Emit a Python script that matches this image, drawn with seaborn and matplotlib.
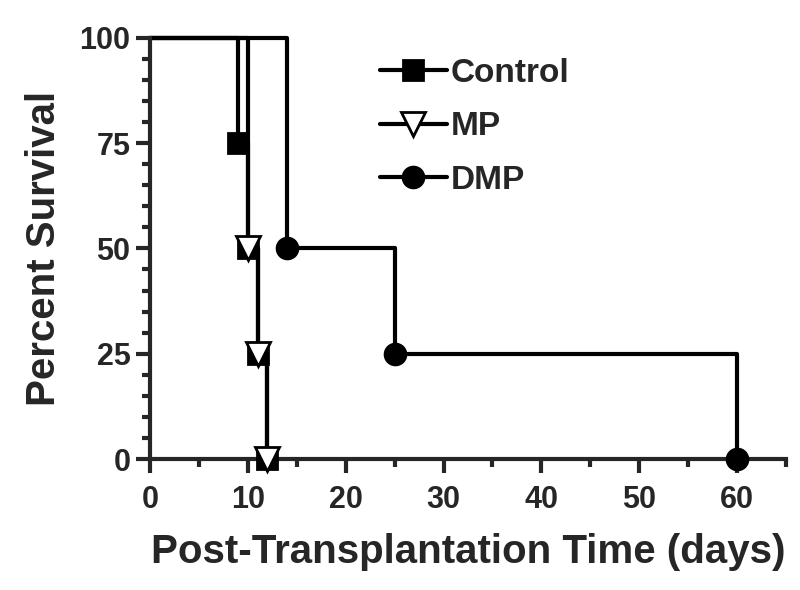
import matplotlib
matplotlib.use('Agg')
import matplotlib.pyplot as plt
import seaborn as sns
import pandas as pd
from matplotlib.lines import Line2D
from matplotlib.ticker import MultipleLocator

# survival curves (day, percent surviving); first point is the start of the curve
control_days = [0, 9, 10, 11, 12]
control_surv = [100, 75, 50, 25, 0]
mp_days = [0, 10, 11, 12]
mp_surv = [100, 50, 25, 0]
dmp_days = [0, 14, 25, 60]
dmp_surv = [100, 50, 25, 0]

groups = ['Control', 'MP', 'DMP']
markers = {'Control': 's', 'MP': 'v', 'DMP': 'o'}
faces = {'Control': 'black', 'MP': 'white', 'DMP': 'black'}
msizes = {'Control': 15, 'MP': 17, 'DMP': 15}

df = pd.concat([
    pd.DataFrame({'day': control_days, 'surv': control_surv, 'group': 'Control'}),
    pd.DataFrame({'day': mp_days, 'surv': mp_surv, 'group': 'MP'}),
    pd.DataFrame({'day': dmp_days, 'surv': dmp_surv, 'group': 'DMP'}),
], ignore_index=True)

sns.set_style('ticks')
plt.rcParams['font.family'] = ['Liberation Sans', 'DejaVu Sans']
plt.rcParams['font.weight'] = 'bold'

fig = plt.figure(figsize=(8, 5.9), dpi=100)
ax = fig.add_axes([0.1875, 0.222, 0.795, 0.714])

lw = 3
for g in groups:
    sub = df[df['group'] == g]
    sns.lineplot(x='day', y='surv', data=sub, ax=ax, color='black', linewidth=lw,
                 drawstyle='steps-post', estimator=None, sort=False, clip_on=False,
                 zorder=2, legend=False)
    ev = sub.iloc[1:]
    ax.plot(ev['day'], ev['surv'], linestyle='none', marker=markers[g],
            markersize=msizes[g], markerfacecolor=faces[g], markeredgecolor='black',
            markeredgewidth=2, clip_on=False, zorder=3)

ax.set_xlim(0, 65)
ax.set_ylim(0, 100)
ax.xaxis.set_major_locator(MultipleLocator(10))
ax.xaxis.set_minor_locator(MultipleLocator(5))
ax.yaxis.set_major_locator(MultipleLocator(25))
ax.yaxis.set_minor_locator(MultipleLocator(5))
ax.tick_params(which='major', length=10, width=3, labelsize=22)
ax.tick_params(axis='x', which='major', pad=9)
ax.tick_params(axis='y', which='major', pad=4)
ax.tick_params(which='minor', length=6, width=3)
for lab in ax.get_xticklabels() + ax.get_yticklabels():
    lab.set_fontweight('bold')
sns.despine(ax=ax)
for s in ['left', 'bottom']:
    ax.spines[s].set_linewidth(3)

ax.set_xlabel('Post-Transplantation Time (days)', fontsize=29, fontweight='bold', labelpad=13)
ax.set_ylabel('Percent Survival', fontsize=29, fontweight='bold')
ax.yaxis.set_label_coords(-0.137, 0.5)

handles = [Line2D([], [], color='black', linewidth=lw, marker=markers[g],
                  markersize=msizes[g], markerfacecolor=faces[g],
                  markeredgecolor='black', markeredgewidth=2) for g in groups]
leg = ax.legend(handles, groups, loc='upper left', bbox_to_anchor=(0.33, 1.0),
                frameon=False, fontsize=24, handlelength=2.0, handletextpad=0.12,
                labelspacing=0.68, borderaxespad=0.2)
for t in leg.get_texts():
    t.set_fontweight('bold')

fig.savefig('out.png', dpi=100)
